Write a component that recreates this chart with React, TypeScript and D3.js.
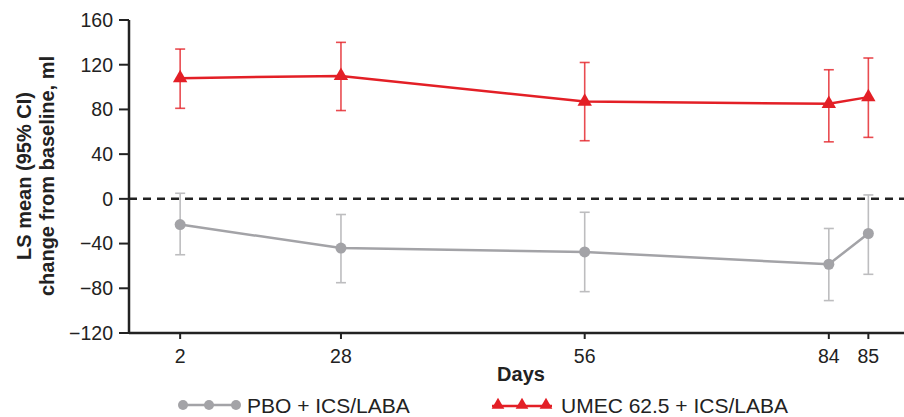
import React from "react";
import * as d3 from "d3";

// days on the x axis and their (uneven) spacing along the axis
const days = [2, 28, 56, 84, 85];
const dayStops = [0.066, 0.2735, 0.588, 0.903, 0.954];

const yTicks = [-120, -80, -40, 0, 40, 80, 120, 160];

// LS mean change from baseline (ml) with 95% CI
const pboMean = [-23, -44, -47.5, -58.5, -31];
const pboLow = [-50, -75, -83, -91, -67.5];
const pboHigh = [5, -14, -12, -26.5, 3.5];

const umecMean = [108, 110, 87, 85, 91];
const umecLow = [81, 79, 52, 51, 55];
const umecHigh = [134, 140, 122, 115.5, 126];

const W = 904;
const H = 417;
const left = 129;
const right = 904;
const top = 20;
const bottom = 333;

const RED = "#e31f26";
const GRAY = "#a3a3a7";
const font = "'Liberation Sans', Arial, Helvetica, sans-serif";

const x = d3
  .scaleLinear()
  .domain(days)
  .range(dayStops.map((f) => left + f * (right - left)));
const y = d3.scaleLinear().domain([-120, 160]).range([bottom, top]);

const line = d3
  .line<number>()
  .x((_, i) => x(days[i]))
  .y((d) => y(d));

const tri = d3.symbol().type(d3.symbolTriangle);

const ErrorBars = ({ lo, hi, color, opacity }: any) => (
  <g stroke={color} strokeWidth={1.6} strokeOpacity={opacity}>
    {days.map((d, i) => (
      <g key={d}>
        <line x1={x(d)} x2={x(d)} y1={y(lo[i])} y2={y(hi[i])} />
        <line x1={x(d) - 5} x2={x(d) + 5} y1={y(lo[i])} y2={y(lo[i])} />
        <line x1={x(d) - 5} x2={x(d) + 5} y1={y(hi[i])} y2={y(hi[i])} />
      </g>
    ))}
  </g>
);

export default function App() {
  return (
    <svg
      width={W}
      height={H}
      style={{ position: "absolute", left: 0, top: 0, background: "#fff" }}
      fontFamily={font}
    >
      {/* zero reference */}
      <line
        x1={left}
        x2={right}
        y1={y(0)}
        y2={y(0)}
        stroke="#222"
        strokeWidth={2.5}
        strokeDasharray="8 6"
      />

      {/* y axis */}
      <line x1={left} x2={left} y1={top} y2={bottom} stroke="#222" strokeWidth={2.5} />
      {yTicks.map((t) => (
        <g key={t}>
          <line x1={left - 10} x2={left} y1={y(t)} y2={y(t)} stroke="#222" strokeWidth={2} />
          <text x={left - 16} y={y(t)} dy="0.35em" textAnchor="end" fontSize={19.5} fill="#222">
            {t < 0 ? "\u2212" + Math.abs(t) : t}
          </text>
        </g>
      ))}

      {/* x axis */}
      <line x1={left} x2={right} y1={bottom} y2={bottom} stroke="#222" strokeWidth={2.5} />
      {days.map((d) => (
        <g key={d}>
          <line x1={x(d)} x2={x(d)} y1={bottom} y2={bottom + 6} stroke="#222" strokeWidth={2} />
          <text x={x(d)} y={363} textAnchor="middle" fontSize={19.5} fill="#222">
            {d}
          </text>
        </g>
      ))}
      <text x={521} y={381} textAnchor="middle" fontSize={20} fontWeight="bold" fill="#222">
        Days
      </text>

      {/* y label */}
      <g transform="translate(31,176) rotate(-90)" fontSize={20} fontWeight="bold" fill="#222">
        <text textAnchor="middle">LS mean (95% CI)</text>
        <text textAnchor="middle" y={23}>
          change from baseline, ml
        </text>
      </g>

      {/* PBO */}
      <ErrorBars lo={pboLow} hi={pboHigh} color="#bdbdbf" opacity={1} />
      <path d={line(pboMean) || ""} fill="none" stroke={GRAY} strokeWidth={2.5} />
      {pboMean.map((v, i) => (
        <circle key={i} cx={x(days[i])} cy={y(v)} r={5.5} fill={GRAY} />
      ))}

      {/* UMEC */}
      <ErrorBars lo={umecLow} hi={umecHigh} color={RED} opacity={0.8} />
      <path d={line(umecMean) || ""} fill="none" stroke={RED} strokeWidth={2.5} />
      {umecMean.map((v, i) => (
        <path
          key={i}
          d={tri.size(90)() || ""}
          transform={`translate(${x(days[i])},${y(v)})`}
          fill={RED}
        />
      ))}

      {/* legend */}
      <g transform="translate(183,405)">
        <line x1={0} x2={53} y1={0} y2={0} stroke={GRAY} strokeWidth={2.5} />
        {[0, 26, 53].map((dx) => (
          <circle key={dx} cx={dx} cy={0} r={5} fill={GRAY} />
        ))}
        <text x={64} y={0} dy="0.36em" fontSize={21} fill="#222">
          PBO + ICS/LABA
        </text>
      </g>
      <g transform="translate(498,405)">
        <line x1={-6} x2={54} y1={1} y2={1} stroke={RED} strokeWidth={2.5} />
        {[0, 24, 48].map((dx) => (
          <path key={dx} d={tri.size(70)() || ""} transform={`translate(${dx},0)`} fill={RED} />
        ))}
        <text x={63} y={0} dy="0.36em" fontSize={21} fill="#222">
          UMEC 62.5 + ICS/LABA
        </text>
      </g>
    </svg>
  );
}
